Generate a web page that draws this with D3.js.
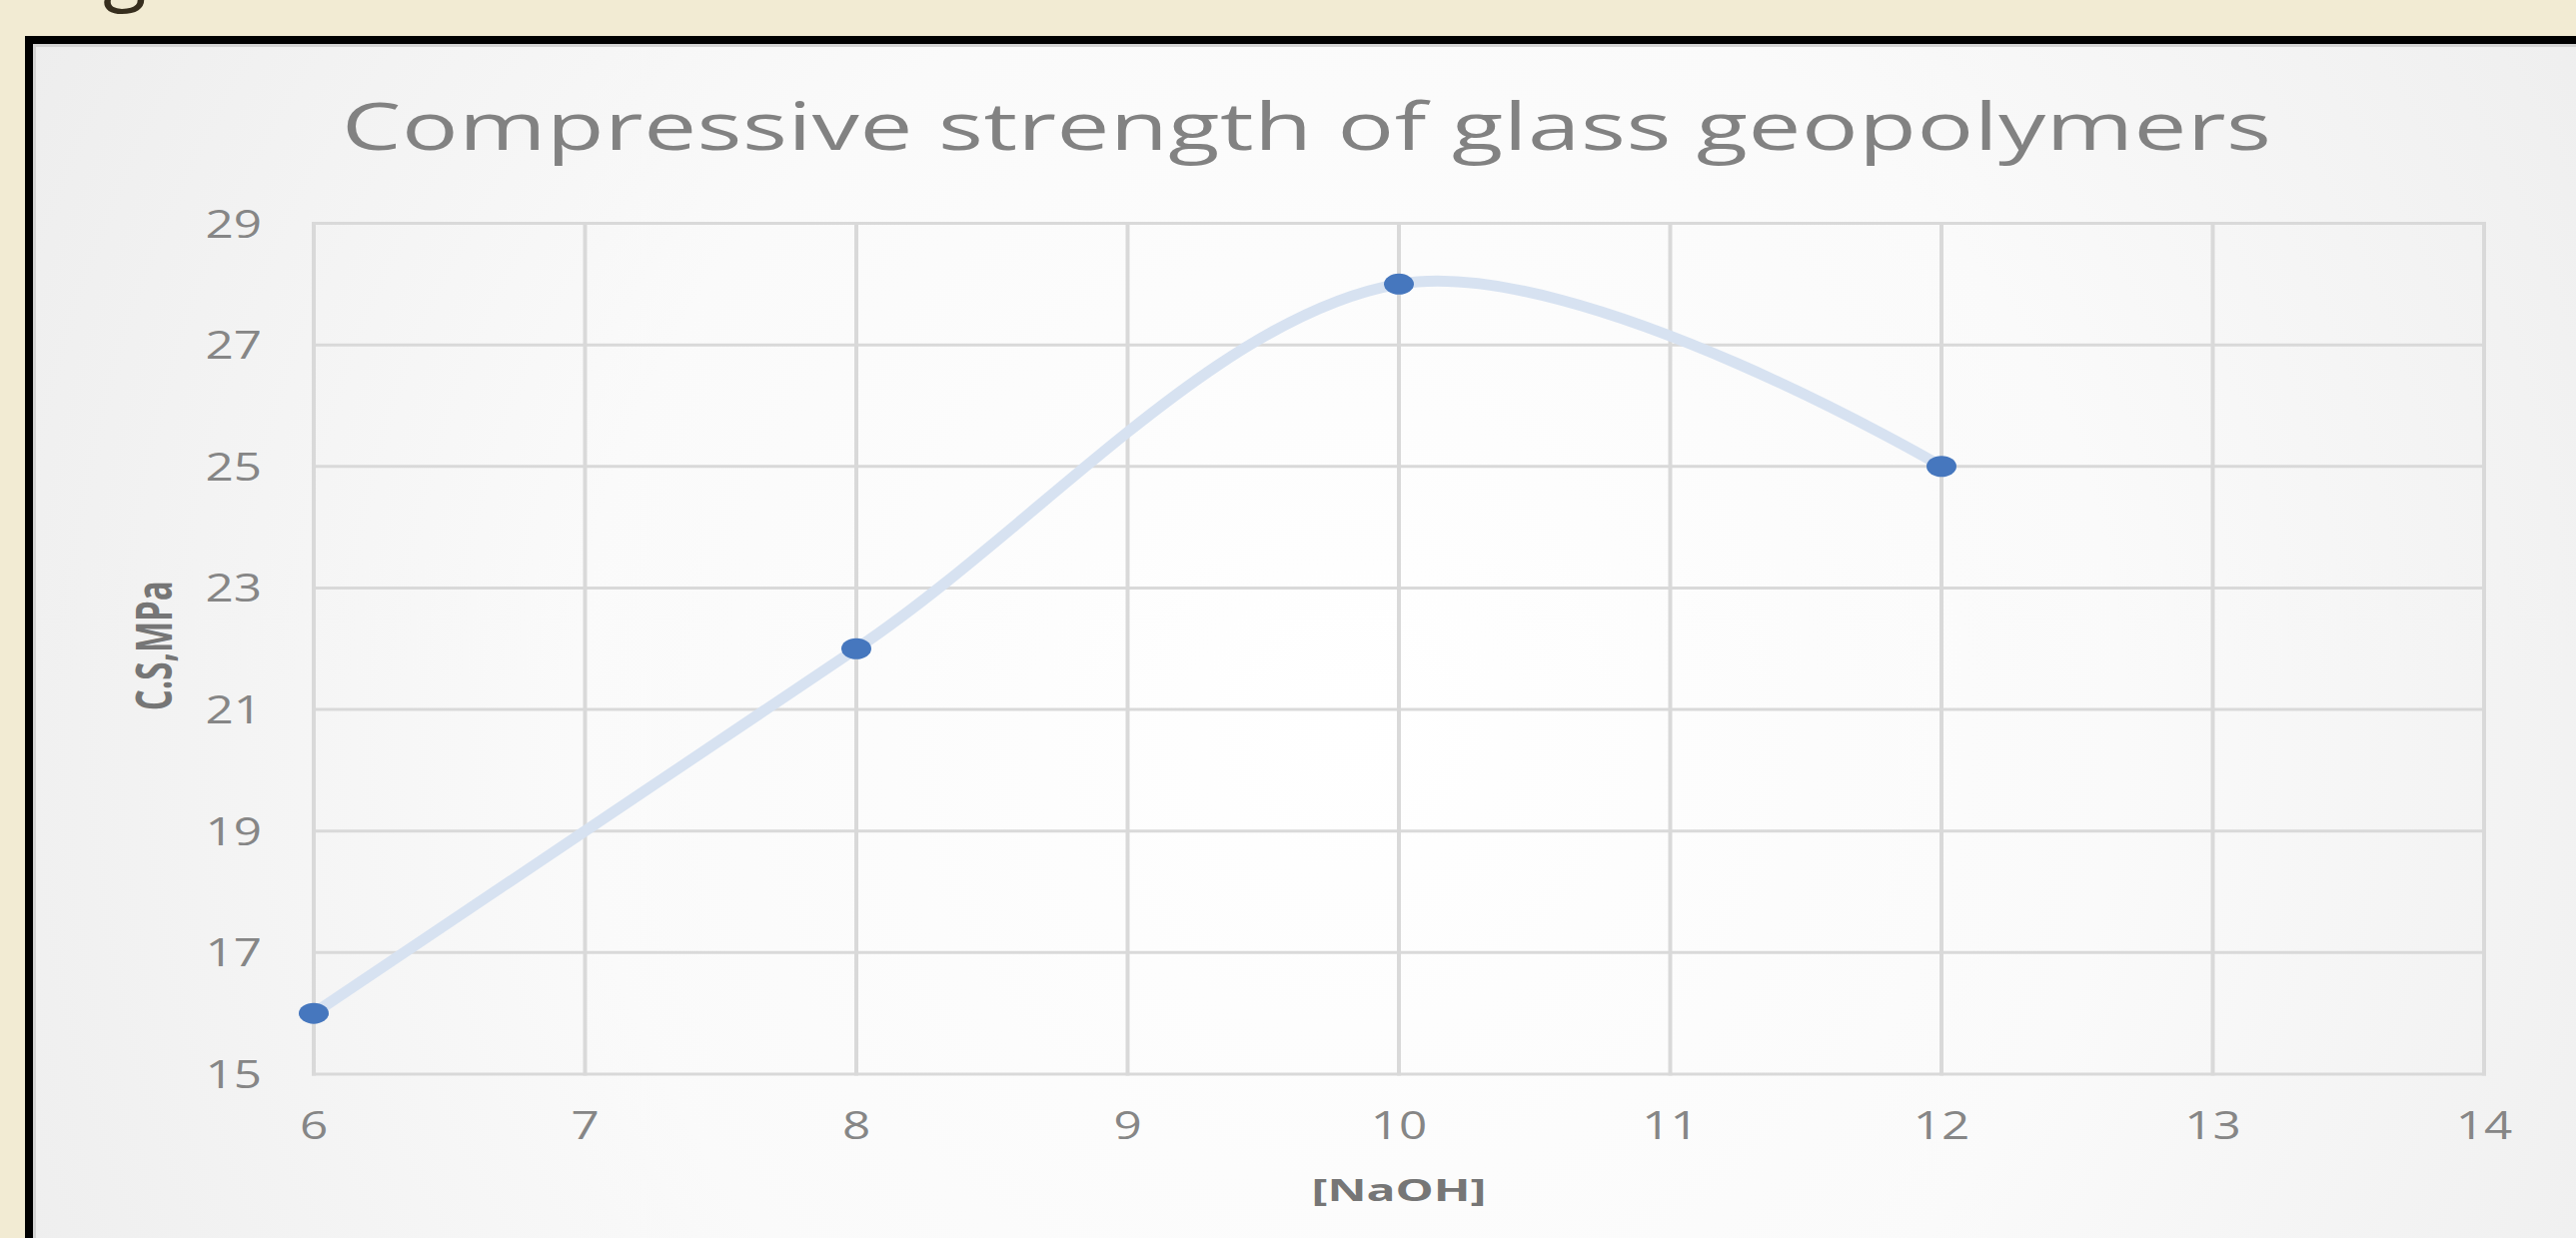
<!DOCTYPE html>
<html><head><meta charset="utf-8">
<script src="https://cdn.jsdelivr.net/npm/d3@7"></script>
<style>html,body{margin:0;padding:0;background:#f2ebd3;overflow:hidden}</style>
</head><body>
<svg id="chart" width="2578" height="1239"></svg>
<script>
// ---- data ----
const naohValues = [6, 8, 10, 12];
const strengthMPa = [16, 22, 28, 25];
const xTickValues = [6, 7, 8, 9, 10, 11, 12, 13, 14];
const yTickValues = [15, 17, 19, 21, 23, 25, 27, 29];
const chartTitle = "Compressive strength of glass geopolymers";
const xAxisTitle = "[NaOH]";
const yAxisTitle = "C.S,MPa";

// ---- layout ----
const W = 2578, H = 1239, S = 1.3;
const plot = {left: 314, right: 2486, top: 223.5, bottom: 1075};
const svg = d3.select("#chart");
const defs = svg.append("defs");
const rg = defs.append("radialGradient").attr("id", "bg")
  .attr("gradientUnits", "userSpaceOnUse")
  .attr("cx", 1350).attr("cy", 720).attr("r", 1550);
rg.append("stop").attr("offset", 0).attr("stop-color", "#ffffff");
rg.append("stop").attr("offset", 0.5).attr("stop-color", "#fafafa");
rg.append("stop").attr("offset", 1).attr("stop-color", "#ececec");

svg.append("rect").attr("width", W).attr("height", H).attr("fill", "#f2ebd3");
// fragment of slide heading above the frame
svg.append("text").attr("x", 103).attr("y", -5)
  .attr("font-family", "Open Sans").attr("font-size", 80)
  .attr("fill", "#372e1e").text("g");

// frame
svg.append("rect").attr("x", 25).attr("y", 36).attr("width", W).attr("height", H).attr("fill", "#000");
svg.append("rect").attr("x", 33).attr("y", 44).attr("width", W).attr("height", H).attr("fill", "url(#bg)");
svg.append("line").attr("x1", 33).attr("x2", W).attr("y1", 45.5).attr("y2", 45.5).attr("stroke", "#d4d4d4").attr("stroke-width", 3);
svg.append("line").attr("x1", 34.5).attr("x2", 34.5).attr("y1", 44).attr("y2", H).attr("stroke", "#d4d4d4").attr("stroke-width", 3);

// ---- scales ----
const x = d3.scaleLinear().domain([6, 14]).range([plot.left, plot.right]);
const y = d3.scaleLinear().domain([15, 29]).range([plot.bottom, plot.top]);

// ---- grid ----
const grid = svg.append("g");
grid.selectAll("line.h").data(yTickValues).join("line").attr("class", "h")
  .attr("x1", x(6) - 2).attr("x2", x(14) + 2)
  .attr("y1", d => y(d)).attr("y2", d => y(d))
  .attr("stroke", "#d9d9d9").attr("stroke-width", 3);
grid.selectAll("line.v").data(xTickValues).join("line").attr("class", "v")
  .attr("x1", d => x(d)).attr("x2", d => x(d))
  .attr("y1", y(29) - 1.5).attr("y2", y(15) + 1.5)
  .attr("stroke", "#d9d9d9").attr("stroke-width", 4);

// ---- text helper (source picture is horizontally stretched) ----
function stext(px, py, str, o) {
  const t = svg.append("text")
    .attr("transform", `translate(${px},${py}) ${o.rotate ? `scale(${o.sx || S},1) rotate(-90)` : `scale(${o.sx || S},1)`}`)
    .attr("font-family", o.family || "Open Sans")
    .attr("font-size", o.size)
    .attr("font-weight", o.weight || "normal")
    .attr("fill", o.fill)
    .attr("text-anchor", o.anchor || "middle")
    .text(str);
  if (o.len) t.attr("textLength", o.len).attr("lengthAdjust", o.adjust || "spacingAndGlyphs");
  return t;
}

// tick labels
yTickValues.forEach(v => stext(262, y(v) + 14, String(v), {size: 38, fill: "#868686", anchor: "end"}));
xTickValues.forEach(v => stext(x(v), 1140, String(v), {size: 38, fill: "#868686"}));

// titles
stext(1307.5, 150, chartTitle, {size: 65, fill: "#828282", len: 1931 / 1.45, adjust: "spacing", sx: 1.45});
stext(1400, 1202, xAxisTitle, {size: 31, weight: "bold", fill: "#767676", len: 175 / S});
stext(172, (plot.top + plot.bottom) / 2 - 3, yAxisTitle, {size: 34, weight: "bold", fill: "#767676", len: 130, rotate: true, sx: 1.5});

// ---- series ----
const pts = naohValues.map((v, i) => [v, strengthMPa[i]]);
const line = d3.line().x(d => x(d[0])).y(d => y(d[1])).curve(d3.curveCardinal.tension(0));
svg.append("path").datum(pts).attr("d", line)
  .attr("fill", "none").attr("stroke", "#d7e2f1").attr("stroke-width", 11)
  .attr("stroke-linecap", "round").attr("stroke-linejoin", "round");
svg.selectAll("ellipse.pt").data(pts).join("ellipse").attr("class", "pt")
  .attr("cx", d => x(d[0])).attr("cy", d => y(d[1]))
  .attr("rx", 15).attr("ry", 10.5).attr("fill", "#4677be");
</script>
</body></html>
